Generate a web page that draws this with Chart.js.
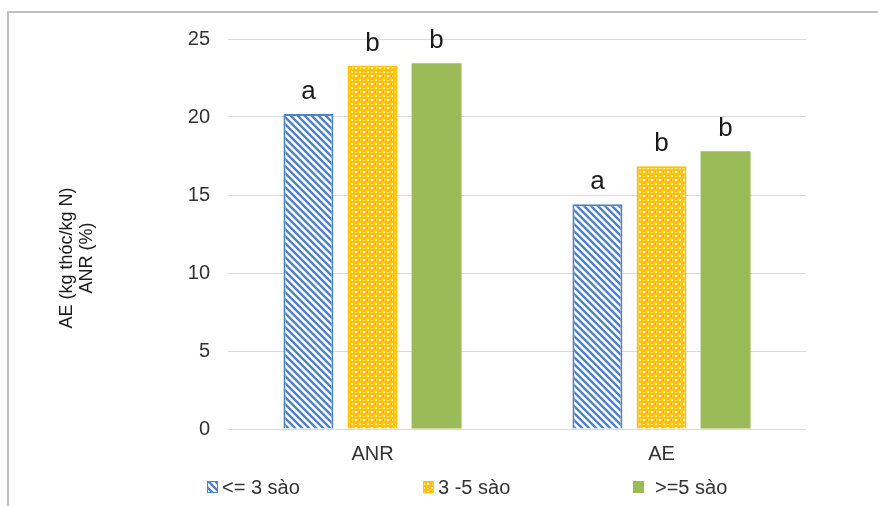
<!DOCTYPE html>
<html>
<head>
<meta charset="utf-8">
<script src="https://cdn.jsdelivr.net/npm/chart.js@4/dist/chart.umd.min.js"></script>
<style>
html,body{margin:0;padding:0;background:#fff;}
#wrap{width:878px;height:506px;position:relative;}
</style>
</head>
<body>
<div id="wrap"><canvas id="c" width="878" height="506"></canvas></div>
<script>
const categories = ['ANR', 'AE'];
const seriesNames = ['<= 3 sào', '3 -5 sào', '>=5 sào'];
const valuesSmall = [20.2, 14.4];
const valuesMedium = [23.3, 16.85];
const valuesLarge = [23.45, 17.8];
const lettersSmall = ['a', 'a'];
const lettersMedium = ['b', 'b'];
const lettersLarge = ['b', 'b'];
const yTicks = [0, 5, 10, 15, 20, 25];
const yTitle = ['AE (kg thóc/kg N)', 'ANR (%)'];

const BLUE = '#4f81c7';
const YELLOW = '#ffc000';
const GREEN = '#9bbb59';
const FONT = '"Liberation Sans", Arial, sans-serif';

function stripePattern() {
  const s = 7;
  const c = document.createElement('canvas');
  c.width = s; c.height = s;
  const g = c.getContext('2d');
  g.fillStyle = '#fff'; g.fillRect(0, 0, s, s);
  g.strokeStyle = BLUE; g.lineWidth = 2.4;
  g.beginPath();
  for (let k = -1; k <= 1; k++) {
    g.moveTo(k * s - 1, -1); g.lineTo(k * s + s + 1, s + 1);
  }
  g.stroke();
  return g.createPattern(c, 'repeat');
}
function dotPattern() {
  const s = 8;
  const c = document.createElement('canvas');
  c.width = s; c.height = s;
  const g = c.getContext('2d');
  g.fillStyle = YELLOW; g.fillRect(0, 0, s, s);
  g.fillStyle = '#fff';
  g.beginPath(); g.arc(4, 4, 1.3, 0, Math.PI * 2); g.fill();
  g.fillStyle = 'rgba(255,255,255,0.8)';
  g.fillRect(0, 0, 1, 1); g.fillRect(s - 1, 0, 1, 1);
  g.fillRect(0, s - 1, 1, 1); g.fillRect(s - 1, s - 1, 1, 1);
  g.fillStyle = 'rgba(255,255,255,0.5)';
  g.fillRect(0, 3, 1, 2); g.fillRect(3, 0, 2, 1);
  return g.createPattern(c, 'repeat');
}

const fills = [stripePattern(), dotPattern(), GREEN];
const borders = [BLUE, YELLOW, GREEN];
const letters = [lettersSmall, lettersMedium, lettersLarge];

const framePlugin = {
  id: 'frame',
  beforeDraw(chart) {
    const ctx = chart.ctx;
    ctx.save();
    ctx.fillStyle = '#fff';
    ctx.fillRect(0, 0, chart.width, chart.height);
    ctx.strokeStyle = '#c0c0c0';
    ctx.lineWidth = 2;
    ctx.beginPath();
    ctx.moveTo(8, chart.height);
    ctx.lineTo(8, 12);
    ctx.lineTo(chart.width, 12);
    ctx.stroke();
    ctx.restore();
  }
};

const titlePlugin = {
  id: 'yTitle',
  afterDraw(chart) {
    const ctx = chart.ctx;
    ctx.save();
    ctx.font = '18px ' + FONT;
    ctx.fillStyle = '#1a1a1a';
    ctx.textAlign = 'center';
    ctx.textBaseline = 'middle';
    ctx.translate(0, chart.chartArea.top + (chart.chartArea.bottom - chart.chartArea.top) / 2 + 24);
    ctx.rotate(-Math.PI / 2);
    yTitle.forEach((t, i) => ctx.fillText(t, 0, 67 + i * 20));
    ctx.restore();
  }
};

const letterPlugin = {
  id: 'letters',
  afterDatasetsDraw(chart) {
    const ctx = chart.ctx;
    ctx.save();
    ctx.font = '26px ' + FONT;
    ctx.fillStyle = '#1a1a1a';
    ctx.textAlign = 'center';
    ctx.textBaseline = 'alphabetic';
    chart.data.datasets.forEach((ds, di) => {
      const meta = chart.getDatasetMeta(di);
      meta.data.forEach((bar, i) => {
        ctx.fillText(letters[di][i], bar.x, bar.y - 15);
      });
    });
    ctx.restore();
  }
};

const legendPlugin = {
  id: 'customLegend',
  afterDraw(chart) {
    const ctx = chart.ctx;
    const starts = [207, 423, 633];
    const y = 487;
    ctx.save();
    ctx.font = '20px ' + FONT;
    ctx.textBaseline = 'middle';
    chart.data.datasets.forEach((ds, di) => {
      const x = starts[di];
      ctx.fillStyle = ds.backgroundColor;
      ctx.fillRect(x, y - 6, 11, 12);
      ctx.strokeStyle = ds.borderColor;
      ctx.lineWidth = 1;
      ctx.strokeRect(x + 0.5, y - 5.5, 10, 11);
      ctx.fillStyle = '#333333';
      ctx.fillText(ds.label, x + (di === 2 ? 22 : 15), y + 1);
    });
    ctx.restore();
  }
};

new Chart(document.getElementById('c'), {
  type: 'bar',
  data: {
    labels: categories,
    datasets: [valuesSmall, valuesMedium, valuesLarge].map((vals, i) => ({
      label: seriesNames[i],
      data: vals,
      backgroundColor: fills[i],
      borderColor: borders[i],
      borderWidth: i === 2 ? 0 : 2,
      categoryPercentage: 0.665,
      barPercentage: 0.78
    }))
  },
  options: {
    responsive: false,
    animation: false,
    devicePixelRatio: 1,
    layout: { padding: { left: 0, right: 72, top: 39, bottom: 27 } },
    plugins: {
      legend: { display: false },
      tooltip: { enabled: false }
    },
    scales: {
      x: {
        grid: { display: false, drawTicks: false },
        border: { display: false },
        ticks: { font: { size: 20, family: FONT }, color: '#333333', padding: 13 }
      },
      y: {
        min: 0, max: 25,
        afterBuildTicks(scale) { scale.ticks = yTicks.map(v => ({ value: v })); },
        afterFit(scale) { scale.width = 228; },
        grid: { color: '#d9d9d9', lineWidth: 1, drawTicks: false },
        border: { display: false },
        ticks: { font: { size: 20, family: FONT }, color: '#333333', padding: 18 },
        title: { display: false }
      }
    }
  },
  plugins: [framePlugin, letterPlugin, legendPlugin, titlePlugin]
});
</script>
</body>
</html>
